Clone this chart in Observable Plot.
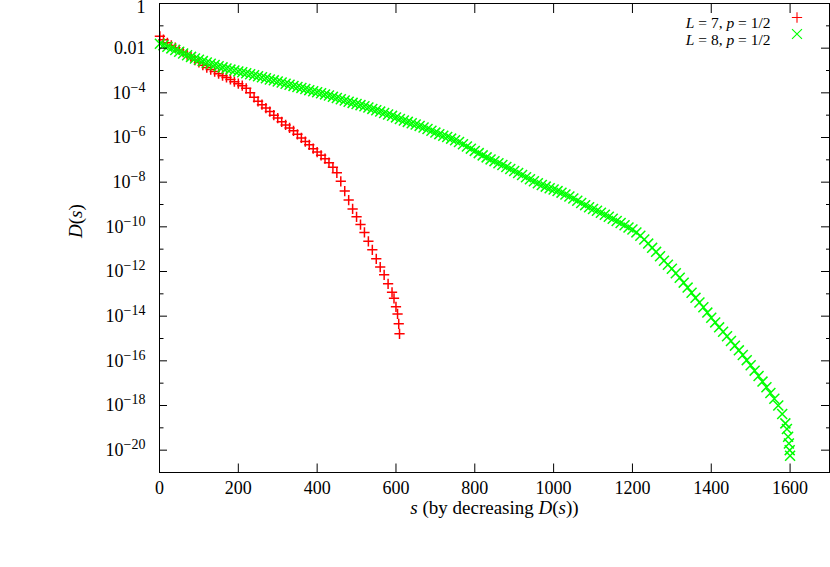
<!DOCTYPE html>
<html><head><meta charset="utf-8">
<script src="https://cdn.jsdelivr.net/npm/d3@7"></script>
<script src="https://cdn.jsdelivr.net/npm/@observablehq/plot@0.6"></script>
<style>html,body{margin:0;padding:0;background:#fff}svg{display:block}</style>
</head><body><div id="chart"></div>
<script>
// L = 7 series: rank s and log10 D(s)
const redS = [1,10,20,30,40,50,60,70,80,90,100,110,120,130,140,150,160,170,180,190,200,210,220,230,240,250,260,270,280,290,300,310,320,330,340,350,360,370,380,390,400,410,420,430,440,450,460,470,480,490,500,510,520,530,540,550,560,570,580,590,595,600,604,607,609];
const redLog10D = [-1.47,-1.62,-1.76,-1.88,-1.98,-2.08,-2.18,-2.29,-2.40,-2.53,-2.64,-2.76,-2.87,-2.96,-3.05,-3.14,-3.23,-3.31,-3.40,-3.50,-3.59,-3.68,-3.80,-4.00,-4.20,-4.38,-4.53,-4.68,-4.84,-5.00,-5.13,-5.30,-5.44,-5.57,-5.70,-5.86,-6.02,-6.18,-6.33,-6.50,-6.65,-6.80,-6.95,-7.13,-7.33,-7.58,-7.96,-8.40,-8.80,-9.20,-9.55,-9.90,-10.25,-10.65,-11.03,-11.43,-11.80,-12.15,-12.55,-12.93,-13.20,-13.58,-13.90,-14.34,-14.79];

// L = 8 series
const greenS = [1,10,20,30,40,50,60,70,80,90,100,110,120,130,140,150,160,170,180,190,200,210,220,230,240,250,260,270,280,290,300,310,320,330,340,350,360,370,380,390,400,410,420,430,440,450,460,470,480,490,500,510,520,530,540,550,560,570,580,590,600,610,620,630,640,650,660,670,680,690,700,710,720,730,740,750,760,770,780,790,800,810,820,830,840,850,860,870,880,890,900,910,920,930,940,950,960,970,980,990,1000,1010,1020,1030,1040,1050,1060,1070,1080,1090,1100,1110,1120,1130,1140,1150,1160,1170,1180,1190,1200,1210,1220,1230,1240,1250,1260,1270,1280,1290,1300,1310,1320,1330,1340,1350,1360,1370,1380,1390,1400,1410,1420,1430,1440,1450,1460,1470,1480,1490,1500,1510,1520,1530,1540,1550,1560,1570,1580,1588,1592,1595,1597,1599,1600];
const greenLog10D = [-1.80,-1.87,-1.94,-2.01,-2.08,-2.16,-2.24,-2.32,-2.39,-2.46,-2.52,-2.58,-2.64,-2.70,-2.75,-2.81,-2.86,-2.91,-2.96,-3.00,-3.04,-3.08,-3.12,-3.17,-3.21,-3.26,-3.30,-3.35,-3.40,-3.44,-3.49,-3.54,-3.59,-3.64,-3.69,-3.74,-3.78,-3.83,-3.88,-3.93,-3.97,-4.02,-4.07,-4.12,-4.18,-4.23,-4.29,-4.34,-4.40,-4.45,-4.50,-4.55,-4.60,-4.66,-4.72,-4.78,-4.84,-4.90,-4.97,-5.03,-5.10,-5.17,-5.24,-5.30,-5.36,-5.42,-5.48,-5.55,-5.62,-5.70,-5.78,-5.85,-5.92,-5.98,-6.05,-6.12,-6.20,-6.30,-6.40,-6.50,-6.60,-6.70,-6.80,-6.89,-6.98,-7.06,-7.15,-7.23,-7.32,-7.41,-7.50,-7.59,-7.68,-7.78,-7.87,-7.96,-8.05,-8.13,-8.20,-8.27,-8.33,-8.40,-8.47,-8.55,-8.64,-8.73,-8.83,-8.93,-9.03,-9.12,-9.20,-9.28,-9.37,-9.46,-9.55,-9.64,-9.74,-9.83,-9.93,-10.03,-10.12,-10.25,-10.40,-10.57,-10.75,-10.94,-11.12,-11.32,-11.52,-11.70,-11.88,-12.08,-12.28,-12.50,-12.72,-12.95,-13.18,-13.39,-13.60,-13.84,-14.07,-14.28,-14.50,-14.70,-14.90,-15.11,-15.32,-15.53,-15.74,-15.97,-16.20,-16.44,-16.68,-16.93,-17.18,-17.44,-17.70,-18.00,-18.38,-18.80,-19.05,-19.40,-19.70,-20.00,-20.25];

const seriesNames = ["|L| = 7, |p| = 1/2", "|L| = 8, |p| = 1/2"];
const xTicks = [0,200,400,600,800,1000,1200,1400,1600];
const yMajorTicks = [1,1e-2,1e-4,1e-6,1e-8,1e-10,1e-12,1e-14,1e-16,1e-18,1e-20];
const yMinorTicks = [1e-1,1e-3,1e-5,1e-7,1e-9,1e-11,1e-13,1e-15,1e-17,1e-19];
const xTitle = "|s| (by decreasing |D|(|s|))";
const yTitle = "|D|(|s|)";

const red = redS.map((s, i) => ({s, D: Math.pow(10, redLog10D[i])}));
const green = greenS.map((s, i) => ({s, D: Math.pow(10, greenLog10D[i])}));

const fmtPow = v => {
  const e = Math.round(Math.log10(v));
  if (e === 0) return "1";
  if (e === -2) return "0.01";
  return "10^" + e;
};
const blank = () => "";

const plot = Plot.plot({
  width: 830, height: 567,
  marginLeft: 159, marginRight: 1, marginTop: 3, marginBottom: 95,
  style: {fontFamily: "'Liberation Serif', serif", fontSize: "18px", background: "#fff", color: "#000", overflow: "visible"},
  x: {domain: [0, 1700], axis: null},
  y: {type: "log", domain: [1e-21, 1], axis: null},
  marks: [
    Plot.dot(red, {x: "s", y: "D", symbol: "plus", r: 3.4, stroke: "#ff0000", strokeWidth: 1.5}),
    Plot.dot(green, {x: "s", y: "D", symbol: "times", r: 4.6, stroke: "#00ff00", strokeWidth: 1.5}),
    Plot.frame({stroke: "#000", strokeWidth: 1}),
    Plot.axisX({ticks: xTicks, anchor: "bottom", tickSize: -8.5, tickPadding: 17, fontSize: 18, tickFormat: d => String(d), label: null}),
    Plot.axisX({ticks: xTicks, anchor: "top", tickSize: -9, tickFormat: blank, label: null}),
    Plot.axisY({ticks: yMajorTicks, anchor: "left", tickSize: -8, tickPadding: 22, fontSize: 18, tickFormat: fmtPow, label: null}),
    Plot.axisY({ticks: yMinorTicks, anchor: "left", tickSize: -4.5, tickFormat: blank, label: null}),
    Plot.axisY({ticks: yMajorTicks, anchor: "right", tickSize: -9, tickFormat: blank, label: null}),
    Plot.axisY({ticks: yMinorTicks, anchor: "right", tickSize: -4, tickFormat: blank, label: null}),
    Plot.text([xTitle], {text: d => d, frameAnchor: "bottom", dy: 41, fontSize: 19}),
    Plot.text([yTitle], {text: d => d, frameAnchor: "left", dx: -84, rotate: -90, fontSize: 19}),
    Plot.text([seriesNames[0]], {text: d => d, frameAnchor: "top-right", textAnchor: "end", dx: -59, dy: 13.5, fontSize: 15.5}),
    Plot.text([seriesNames[1]], {text: d => d, frameAnchor: "top-right", textAnchor: "end", dx: -59, dy: 30.5, fontSize: 15.5}),
    Plot.dot([seriesNames[0]], {frameAnchor: "top-right", dx: -32.5, dy: 14, symbol: "plus", r: 3.4, stroke: "#ff0000", strokeWidth: 1.1}),
    Plot.dot([seriesNames[1]], {frameAnchor: "top-right", dx: -32.5, dy: 30.5, symbol: "times", r: 4.6, stroke: "#00ff00", strokeWidth: 1.1})
  ]
});

const NS = "http://www.w3.org/2000/svg";
d3.select(plot).selectAll("text").each(function () {
  const t = this.textContent;
  if (t === "1") {
    const tr = this.getAttribute("transform");
    this.setAttribute("transform", (tr ? tr + " " : "") + "translate(0,4)");
  } else if (t.includes("^")) {
    const [b, e] = t.split("^");
    this.textContent = b;
    const ts = document.createElementNS(NS, "tspan");
    ts.textContent = e.replace("-", "\u2212");
    ts.setAttribute("dy", "-0.5em");
    ts.setAttribute("font-size", "14");
    this.appendChild(ts);
  } else if (t.includes("|")) {
    const parts = t.split("|");
    this.textContent = "";
    parts.forEach((p, i) => {
      if (!p) return;
      const ts = document.createElementNS(NS, "tspan");
      ts.textContent = p;
      if (i % 2 === 1) ts.setAttribute("font-style", "italic");
      this.appendChild(ts);
    });
  }
});

document.getElementById("chart").appendChild(plot);
</script>
</body></html>
